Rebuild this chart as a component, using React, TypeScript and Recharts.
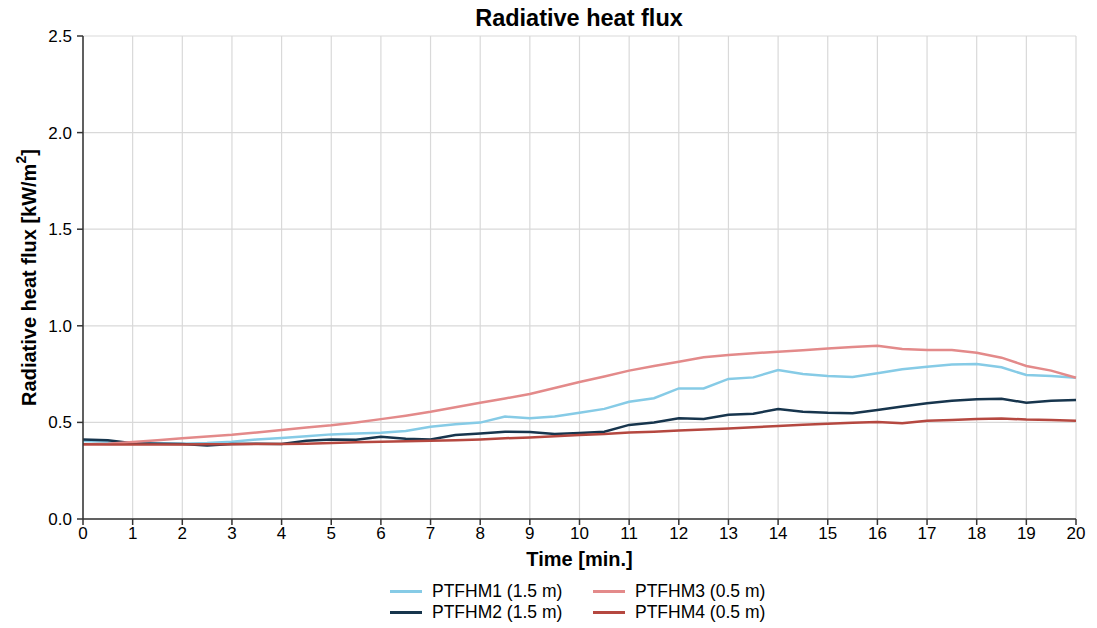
import { CartesianGrid, Line, LineChart, XAxis, YAxis } from 'recharts';

const timeMin = [
  0, 0.5, 1, 1.5, 2, 2.5, 3, 3.5, 4, 4.5, 5, 5.5, 6, 6.5, 7, 7.5, 8, 8.5, 9, 9.5, 10,
  10.5, 11, 11.5, 12, 12.5, 13, 13.5, 14, 14.5, 15, 15.5, 16, 16.5, 17, 17.5, 18, 18.5, 19, 19.5, 20
];

const ptfhm1 = [
  0.404, 0.4, 0.395, 0.392, 0.39, 0.393, 0.4, 0.412, 0.419, 0.428, 0.438, 0.442, 0.447, 0.455, 0.478,
  0.49, 0.499, 0.53, 0.521, 0.53, 0.55, 0.57, 0.607, 0.625, 0.676, 0.676, 0.725, 0.733, 0.771, 0.75,
  0.74, 0.735, 0.754, 0.775, 0.788, 0.8, 0.802, 0.785, 0.745, 0.74, 0.731
];

const ptfhm2 = [
  0.412, 0.408, 0.392, 0.39, 0.388, 0.381, 0.388, 0.39, 0.388, 0.405, 0.412, 0.41, 0.426, 0.415, 0.412,
  0.435, 0.443, 0.452, 0.45, 0.44, 0.445, 0.452, 0.487, 0.5, 0.521, 0.518, 0.54, 0.545, 0.569, 0.555,
  0.55, 0.548, 0.564, 0.582, 0.599, 0.612, 0.62, 0.622, 0.602, 0.612, 0.616
];

const ptfhm3 = [
  0.385, 0.39, 0.398, 0.408, 0.418, 0.427, 0.436, 0.448, 0.461, 0.473, 0.485, 0.5, 0.517, 0.535, 0.555,
  0.578, 0.602, 0.624, 0.647, 0.678, 0.709, 0.738, 0.768, 0.792, 0.814, 0.837, 0.849, 0.858, 0.866, 0.874,
  0.882, 0.89, 0.897, 0.88, 0.875, 0.875, 0.861, 0.835, 0.792, 0.768, 0.731
];

const ptfhm4 = [
  0.387, 0.385, 0.385, 0.386, 0.386, 0.387, 0.387, 0.388, 0.388, 0.39, 0.393, 0.397, 0.4, 0.402, 0.405,
  0.408, 0.412, 0.418, 0.422, 0.428, 0.435, 0.44, 0.448, 0.452, 0.458, 0.463, 0.469, 0.475, 0.481, 0.488,
  0.493, 0.498, 0.502, 0.495, 0.509, 0.513, 0.518, 0.52, 0.515, 0.513, 0.509
];

const xTicks = [0, 1, 2, 3, 4, 5, 6, 7, 8, 9, 10, 11, 12, 13, 14, 15, 16, 17, 18, 19, 20];
const yTicks = [0, 0.5, 1, 1.5, 2, 2.5];

const series = [
  { key: 'p1', name: 'PTFHM1 (1.5 m)', color: '#86cbe6' },
  { key: 'p2', name: 'PTFHM2 (1.5 m)', color: '#17354d' },
  { key: 'p3', name: 'PTFHM3 (0.5 m)', color: '#e38a8a' },
  { key: 'p4', name: 'PTFHM4 (0.5 m)', color: '#b54840' }
];

const data = timeMin.map((t, i) => ({
  t,
  p1: ptfhm1[i],
  p2: ptfhm2[i],
  p3: ptfhm3[i],
  p4: ptfhm4[i]
}));

const FONT = '"Liberation Sans", Arial, sans-serif';

function YLabel({ viewBox }: any) {
  const cx = 36;
  const cy = viewBox.y + viewBox.height / 2;
  return (
    <text
      x={cx}
      y={cy}
      transform={`rotate(-90, ${cx}, ${cy})`}
      textAnchor="middle"
      fontSize={20}
      fontWeight="bold"
      fill="#000"
      fontFamily={FONT}
    >
      Radiative heat flux [kW/m
      <tspan dy={-10} fontSize={14}>2</tspan>
      <tspan dy={10}>]</tspan>
    </text>
  );
}

function LegendItem({ name, color }: { name: string; color: string }) {
  return (
    <div style={{ display: 'flex', alignItems: 'center', height: 21 }}>
      <span style={{ display: 'inline-block', width: 32, height: 2.5, background: color, marginRight: 10 }} />
      <span>{name}</span>
    </div>
  );
}

export default function App() {
  return (
    <div
      style={{
        position: 'absolute',
        left: 0,
        top: 0,
        width: 1097,
        height: 628,
        background: '#fff',
        fontFamily: FONT
      }}
    >
      <div
        style={{
          position: 'absolute',
          top: 7,
          left: 0,
          width: 1158,
          textAlign: 'center',
          fontSize: 23.5,
          lineHeight: '23px',
          fontWeight: 'bold'
        }}
      >
        Radiative heat flux
      </div>
      <LineChart width={1097} height={628} data={data} margin={{ top: 36, right: 21, left: 0, bottom: 79 }}>
        <CartesianGrid stroke="#d9d9d9" strokeWidth={1.2} />
        <XAxis
          dataKey="t"
          type="number"
          domain={[0, 20]}
          ticks={xTicks}
          interval={0}
          height={30}
          stroke="#333"
          strokeWidth={1.5}
          tickSize={6}
          tick={{ fill: '#000', fontSize: 17, fontFamily: FONT }}
          label={{
            value: 'Time [min.]',
            position: 'insideBottom',
            offset: -17,
            fontSize: 20,
            fontWeight: 'bold',
            fill: '#000',
            fontFamily: FONT
          }}
        />
        <YAxis
          type="number"
          domain={[0, 2.5]}
          ticks={yTicks}
          width={83}
          stroke="#333"
          strokeWidth={1.5}
          tickSize={6}
          tickMargin={5}
          tickFormatter={(v: number) => v.toFixed(1)}
          tick={{ fill: '#000', fontSize: 17, fontFamily: FONT }}
          label={<YLabel />}
        />
        {series.map((s) => (
          <Line
            key={s.key}
            type="linear"
            dataKey={s.key}
            name={s.name}
            stroke={s.color}
            strokeWidth={2.5}
            dot={false}
            isAnimationActive={false}
          />
        ))}
      </LineChart>
      <div
        style={{
          position: 'absolute',
          left: 390,
          top: 581,
          display: 'grid',
          gridTemplateColumns: '203px 203px',
          fontSize: 17.5,
          color: '#000'
        }}
      >
        <LegendItem name={series[0].name} color={series[0].color} />
        <LegendItem name={series[2].name} color={series[2].color} />
        <LegendItem name={series[1].name} color={series[1].color} />
        <LegendItem name={series[3].name} color={series[3].color} />
      </div>
    </div>
  );
}
